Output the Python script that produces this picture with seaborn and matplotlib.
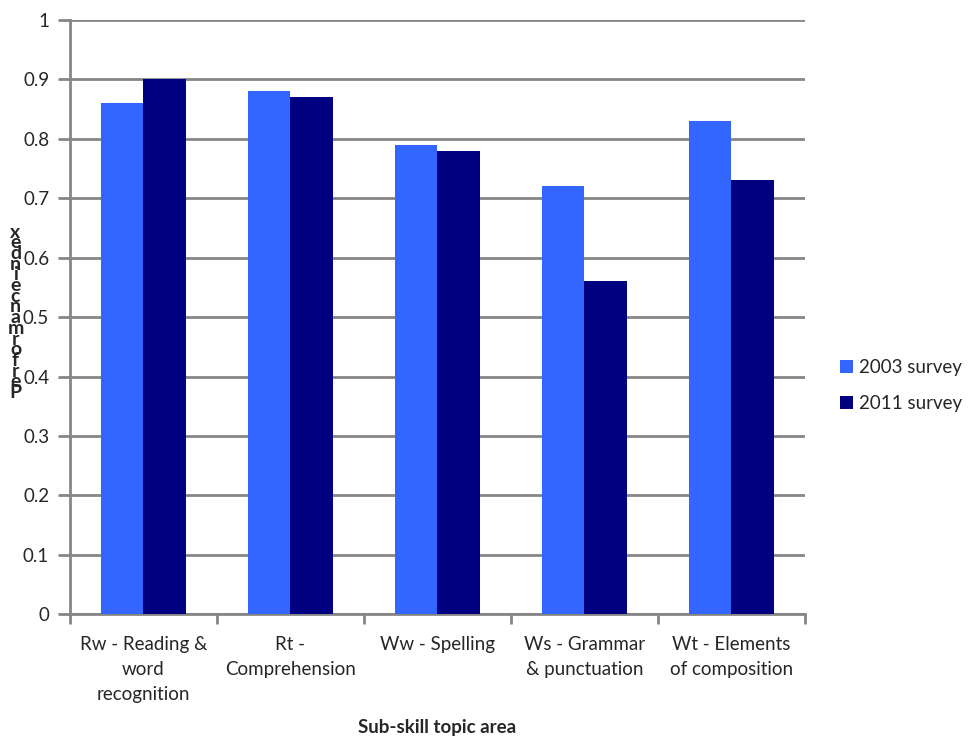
import pandas as pd
import matplotlib.pyplot as plt
import seaborn as sns

categories = ["Rw - Reading &\nword\nrecognition", "Rt -\nComprehension", "Ww - Spelling",
              "Ws - Grammar\n& punctuation", "Wt - Elements\nof composition"]
survey_2003 = [0.86, 0.88, 0.79, 0.72, 0.83]
survey_2011 = [0.90, 0.87, 0.78, 0.56, 0.73]
series = ["2003 survey", "2011 survey"]
colors = ["#3366FF", "#000080"]

df = pd.DataFrame({
    "topic": categories * 2,
    "value": survey_2003 + survey_2011,
    "survey": [series[0]] * 5 + [series[1]] * 5,
})

sns.set_style("white")
plt.rcParams['font.family'] = ['Lato', 'DejaVu Sans']

fig = plt.figure(figsize=(9.68, 7.4), dpi=100)
ax = fig.add_axes([0.0723, 0.170, 0.7593, 0.803])

sns.barplot(data=df, x="topic", y="value", hue="survey", palette=colors,
            width=0.58, saturation=1, linewidth=0, ax=ax, zorder=3)

ax.set_ylim(0, 1)
ax.set_xlim(-0.5, 4.5)
ax.set_yticks([i / 10 for i in range(11)])
ax.set_yticklabels(["0"] + [f"{i/10:.1f}" for i in range(1, 10)] + ["1"], fontsize=13.5)
ax.yaxis.grid(True, color="#868686", linewidth=2, zorder=0)
ax.tick_params(axis="y", length=9, width=2, color="#868686", pad=6, left=True)

ax.set_xticks([i - 0.5 for i in range(6)], minor=True)
ax.set_xticks(range(5))
ax.set_xticklabels(categories, fontsize=13.5, linespacing=1.55)
ax.tick_params(axis="x", which="major", length=0, pad=16)
ax.tick_params(axis="x", which="minor", length=7, width=2, color="#868686", bottom=True)

for side in ["top", "right"]:
    ax.spines[side].set_visible(False)
for side in ["left", "bottom"]:
    ax.spines[side].set_color("#868686")
    ax.spines[side].set_linewidth(2)

ax.set_xlabel("Sub-skill topic area", fontsize=13.5, fontweight="bold", labelpad=12)
ax.set_ylabel("")
# the stacked, overlapping letters of the original axis title
fig.text(0.016, 0.578, "\n".join(reversed("Performance index".replace(" ", ""))),
         fontsize=14, fontweight="bold", ha="center", va="center", linespacing=0.55)

ax.legend(loc="center left", bbox_to_anchor=(0.86, 0.479), bbox_transform=fig.transFigure,
          frameon=False, fontsize=13.5, handlelength=0.7, handleheight=0.7,
          handletextpad=0.3, labelspacing=1.05, borderaxespad=0)

fig.savefig("out.png", dpi=100)
